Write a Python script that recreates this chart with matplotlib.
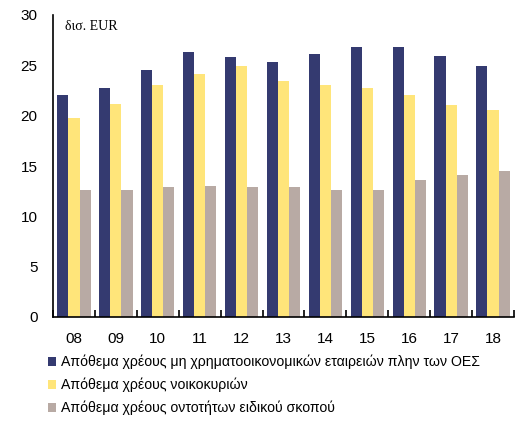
import matplotlib.pyplot as plt
import numpy as np
from matplotlib.patches import Patch

years = ["08", "09", "10", "11", "12", "13", "14", "15", "16", "17", "18"]
nfc_debt = [22.1, 22.7, 24.5, 26.3, 25.8, 25.3, 26.1, 26.8, 26.8, 25.9, 24.9]
household_debt = [19.8, 21.2, 23.0, 24.1, 24.9, 23.4, 23.0, 22.7, 22.1, 21.1, 20.6]
spv_debt = [12.6, 12.6, 12.9, 13.0, 12.9, 12.9, 12.6, 12.6, 13.6, 14.1, 14.5]

series_labels = [
    "Απόθεμα χρέους μη χρηματοοικονομικών εταιρειών πλην των ΟΕΣ",
    "Απόθεμα χρέους νοικοκυριών",
    "Απόθεμα χρέους οντοτήτων ειδικού σκοπού",
]
colors = ["#343A70", "#FFE57A", "#B8AAA4"]

plt.rcParams["font.family"] = ["Liberation Sans", "DejaVu Sans"]

fig = plt.figure(figsize=(5.28, 4.37), dpi=100)
ax = fig.add_axes([53 / 528, 1 - 317 / 437, 461 / 528, 302 / 437])

x = np.arange(len(years))
width = 0.265
for i, (vals, col) in enumerate(zip([nfc_debt, household_debt, spv_debt], colors)):
    ax.bar(x + (i - 1) * width, vals, width=width, color=col, linewidth=0)

ax.set_xlim(-0.5, len(years) - 0.5)
ax.set_ylim(0, 30)
ax.set_yticks(np.arange(0, 31, 5))
ax.tick_params(axis="y", length=0, labelsize=11, pad=11)
ax.set_xticks(x)
ax.set_xticklabels(years)
ax.tick_params(axis="x", which="major", length=0, labelsize=11, pad=11)
ax.set_xticks(np.arange(-0.5, len(years)), minor=True)
ax.tick_params(axis="x", which="minor", direction="in", length=5, width=1.2)

for side in ["top", "right"]:
    ax.spines[side].set_visible(False)
ax.spines["left"].set_linewidth(1.2)
ax.spines["bottom"].set_linewidth(1.2)

ax.text(0.025, 0.985, "δισ. EUR", transform=ax.transAxes, ha="left", va="top",
        fontsize=10, family="Liberation Serif")

handles = [Patch(facecolor=c, edgecolor="none") for c in colors]
fig.legend(handles, series_labels, loc="upper left",
           bbox_to_anchor=(42 / 528, 1 - 349 / 437), frameon=False,
           fontsize=10.2, handlelength=0.6, handleheight=0.6, handletextpad=0.35,
           labelspacing=0.6, borderaxespad=0)

fig.savefig("out.png", dpi=100)
